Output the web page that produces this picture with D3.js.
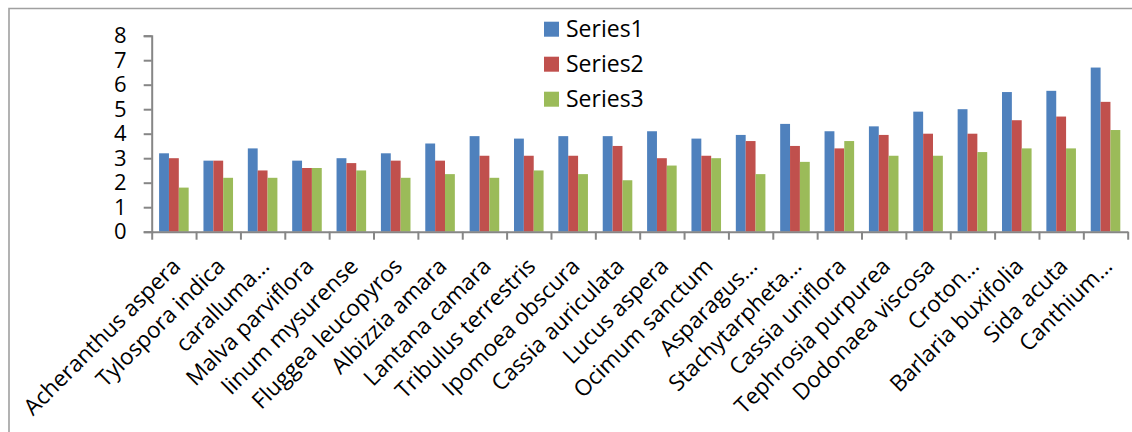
<!DOCTYPE html>
<html>
<head>
<meta charset="utf-8">
<script src="https://cdn.jsdelivr.net/npm/d3@7"></script>
<style>
  body { margin: 0; background: #fff; }
  text { font-family: "Open Sans", sans-serif; fill: #000; }
</style>
</head>
<body>
<script>
// plant names along the x axis (Excel truncated the long ones)
var categories = ["Acheranthus aspera", "Tylospora indica", "caralluma\u2026", "Malva parviflora",
    "linum mysurense", "Fluggea leucopyros", "Albizzia amara", "Lantana camara",
    "Tribulus terrestris", "Ipomoea obscura", "Cassia auriculata", "Lucus aspera",
    "Ocimum sanctum", "Asparagus\u2026", "Stachytarpheta\u2026", "Cassia uniflora",
    "Tephrosia purpurea", "Dodonaea viscosa", "Croton\u2026", "Barlaria buxifolia",
    "Sida acuta", "Canthium\u2026"];

var series1 = [3.2, 2.9, 3.4, 2.9, 3.0, 3.2, 3.6, 3.9, 3.8, 3.9, 3.9, 4.1, 3.8, 3.95, 4.4, 4.1, 4.3, 4.9, 5.0, 5.7, 5.75, 6.7];
var series2 = [3.0, 2.9, 2.5, 2.6, 2.8, 2.9, 2.9, 3.1, 3.1, 3.1, 3.5, 3.0, 3.1, 3.7, 3.5, 3.4, 3.95, 4.0, 4.0, 4.55, 4.7, 5.3];
var series3 = [1.8, 2.2, 2.2, 2.6, 2.5, 2.2, 2.35, 2.2, 2.5, 2.35, 2.1, 2.7, 3.0, 2.35, 2.85, 3.7, 3.1, 3.1, 3.25, 3.4, 3.4, 4.15];

var seriesNames = ["Series1", "Series2", "Series3"];
var seriesColors = ["#4F81BD", "#C0504D", "#9BBB59"];
var yTicks = [0, 1, 2, 3, 4, 5, 6, 7, 8];

window.onload = function () {
    var w = 1132, h = 432;
    var left = 151.7, right = 1127.7, top = 35.7, bottom = 231.7;

    var svg = d3.select("body").append("svg")
        .attr("width", w)
        .attr("height", h);

    // chart frame (only top and left edges fall inside the picture)
    svg.append("path")
        .attr("d", "M9,432V8.5H1132")
        .attr("fill", "none")
        .attr("stroke", "#a0a0a0")
        .attr("stroke-width", 1.6);

    var table = categories.map(function (c, i) {
        return { name: c, values: [series1[i], series2[i], series3[i]] };
    });

    // outer band per plant, inner band per series (gap = 150% of a bar)
    var x0 = d3.scaleBand()
        .domain(categories)
        .range([left, right])
        .paddingInner(1 / 3)
        .paddingOuter(1 / 6);

    var x1 = d3.scaleBand()
        .domain(d3.range(3))
        .range([0, x0.bandwidth()]);

    var y = d3.scaleLinear()
        .domain([0, 8])
        .range([bottom, top]);

    // bars
    var groups = svg.selectAll(".group")
        .data(table)
        .enter()
        .append("g")
        .attr("class", "group")
        .attr("transform", function (d) { return "translate(" + x0(d.name) + ",0)"; });

    groups.selectAll("rect")
        .data(function (d) { return d.values; })
        .enter()
        .append("rect")
        .attr("x", function (d, i) { return x1(i); })
        .attr("y", function (d) { return y(d); })
        .attr("width", x1.bandwidth())
        .attr("height", function (d) { return bottom - y(d); })
        .attr("fill", function (d, i) { return seriesColors[i]; });

    // y axis
    var yAxis = d3.axisLeft(y)
        .tickValues(yTicks)
        .tickSize(8)
        .tickPadding(17)
        .tickFormat(d3.format("d"));

    var gy = svg.append("g")
        .attr("transform", "translate(" + left + ",0)")
        .call(yAxis);
    gy.select(".domain").attr("stroke", "#868686").attr("stroke-width", 2);
    gy.selectAll(".tick line").attr("stroke", "#868686").attr("stroke-width", 2);
    gy.selectAll(".tick text")
        .attr("font-size", 22)
        .attr("font-family", "Open Sans")
        .attr("fill", "#000");

    // x axis: tick marks between categories
    var xb = d3.scaleLinear().domain([0, categories.length]).range([left, right]);
    var xAxis = d3.axisBottom(xb)
        .tickValues(d3.range(categories.length + 1))
        .tickSize(8)
        .tickSizeOuter(0)
        .tickFormat("");
    var gx = svg.append("g")
        .attr("transform", "translate(0," + bottom + ")")
        .call(xAxis);
    gx.select(".domain").attr("stroke", "#868686").attr("stroke-width", 2);
    gx.selectAll(".tick line").attr("stroke", "#868686").attr("stroke-width", 2);

    // rotated category labels
    svg.selectAll(".cat")
        .data(categories)
        .enter()
        .append("text")
        .attr("class", "cat")
        .attr("text-anchor", "end")
        .attr("font-size", 22.5)
        .attr("transform", function (d) {
            var cx = x0(d) + x0.bandwidth() / 2;
            return "translate(" + (cx + 8) + "," + (bottom + 36) + ") rotate(-45)";
        })
        .text(function (d) { return d; });

    // legend
    var legend = svg.selectAll(".legend")
        .data(seriesNames)
        .enter()
        .append("g")
        .attr("class", "legend")
        .attr("transform", function (d, i) { return "translate(544," + (21.7 + i * 35) + ")"; });

    legend.append("rect")
        .attr("width", 15)
        .attr("height", 15)
        .attr("fill", function (d, i) { return seriesColors[i]; });

    legend.append("text")
        .attr("x", 22)
        .attr("y", 15)
        .attr("font-size", 23)
        .text(function (d) { return d; });
};
</script>
</body>
</html>
